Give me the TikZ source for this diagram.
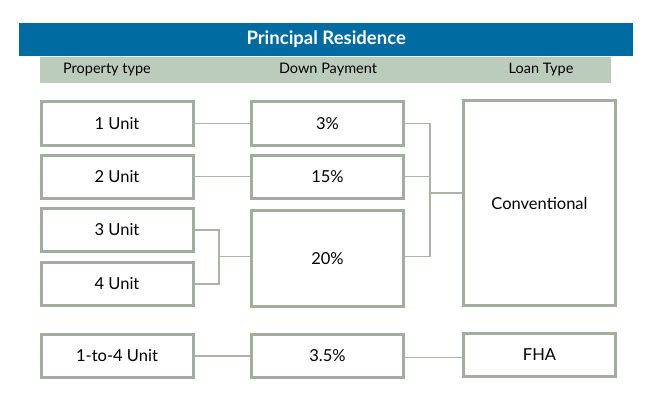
\documentclass[tikz,border=0pt]{standalone}
\usepackage{fontspec}
\setmainfont{Lato}
\definecolor{titleblue}{RGB}{0,107,161}
\definecolor{headgray}{RGB}{188,204,188}
\definecolor{boxgray}{RGB}{163,173,159}
\definecolor{linegray}{RGB}{170,180,166}
\begin{document}
\begin{tikzpicture}[x=1pt,y=-1pt,
  cell/.style={draw=boxgray,line width=3pt,fill=white,inner sep=0pt,font=\fontsize{16.5}{19}\selectfont},
  conn/.style={draw=linegray,line width=1.8pt},
  headtxt/.style={font=\fontsize{14.5}{17}\selectfont,text=black}]
\useasboundingbox (0,0) rectangle (650,401);
\node[fill=titleblue,minimum width=614pt,minimum height=33pt,inner sep=0pt,anchor=north west,text=white,font=\fontsize{18.5}{22}\selectfont\bfseries] (title) at (19,22.5) {Principal Residence};
\node[fill=headgray,minimum width=571pt,minimum height=26pt,inner sep=0pt,anchor=north west] (head) at (40,56.5) {};
\node[headtxt] (h1) at (107,69.5) {Property type};
\node[headtxt] (h2) at (328,69.5) {Down Payment};
\node[headtxt] (h3) at (541,69.5) {Loan Type};
% left column
\node[cell,minimum width=152pt,minimum height=43pt] (u1) at (117,123.5) {1 Unit};
\node[cell,minimum width=152pt,minimum height=43pt] (u2) at (117,176.5) {2 Unit};
\node[cell,minimum width=152pt,minimum height=43pt] (u3) at (117,230) {3 Unit};
\node[cell,minimum width=152pt,minimum height=43pt] (u4) at (117,284) {4 Unit};
\node[cell,minimum width=152pt,minimum height=43pt] (u14) at (117,356) {1-to-4 Unit};
% middle column
\node[cell,minimum width=152pt,minimum height=43pt] (p3) at (327.5,123.5) {3\%};
\node[cell,minimum width=152pt,minimum height=43pt] (p15) at (327.5,176.5) {15\%};
\node[cell,minimum width=152pt,minimum height=96pt] (p20) at (327.5,258.5) {20\%};
\node[cell,minimum width=152pt,minimum height=43pt] (p35) at (327.5,356) {3.5\%};
% right column
\node[cell,minimum width=152pt,minimum height=204pt] (conv) at (539.5,203) {Conventional};
\node[cell,minimum width=152pt,minimum height=43pt] (fha) at (539.5,355) {FHA};
% connectors
\coordinate (bl) at (219,256.5);
\coordinate (br) at (430,193);
\draw[conn] (u1.east) -- (p3.west);
\draw[conn] (u2.east) -- (p15.west);
\draw[conn] (u3.east) -| (bl);
\draw[conn] (u4.east) -| (bl);
\draw[conn] (bl) -- (bl -| p20.west);
\draw[conn] (p3.east) -| (br);
\draw[conn] (p15.east) -| (br);
\draw[conn] (p20.east |- 0,256.5) -| (br);
\draw[conn] (br) -- (br -| conv.west);
\draw[conn] (u14.east) -- (p35.west);
\draw[conn] (p35.east |- 0,357.5) -- (fha.west |- 0,357.5);
\end{tikzpicture}
\end{document}
